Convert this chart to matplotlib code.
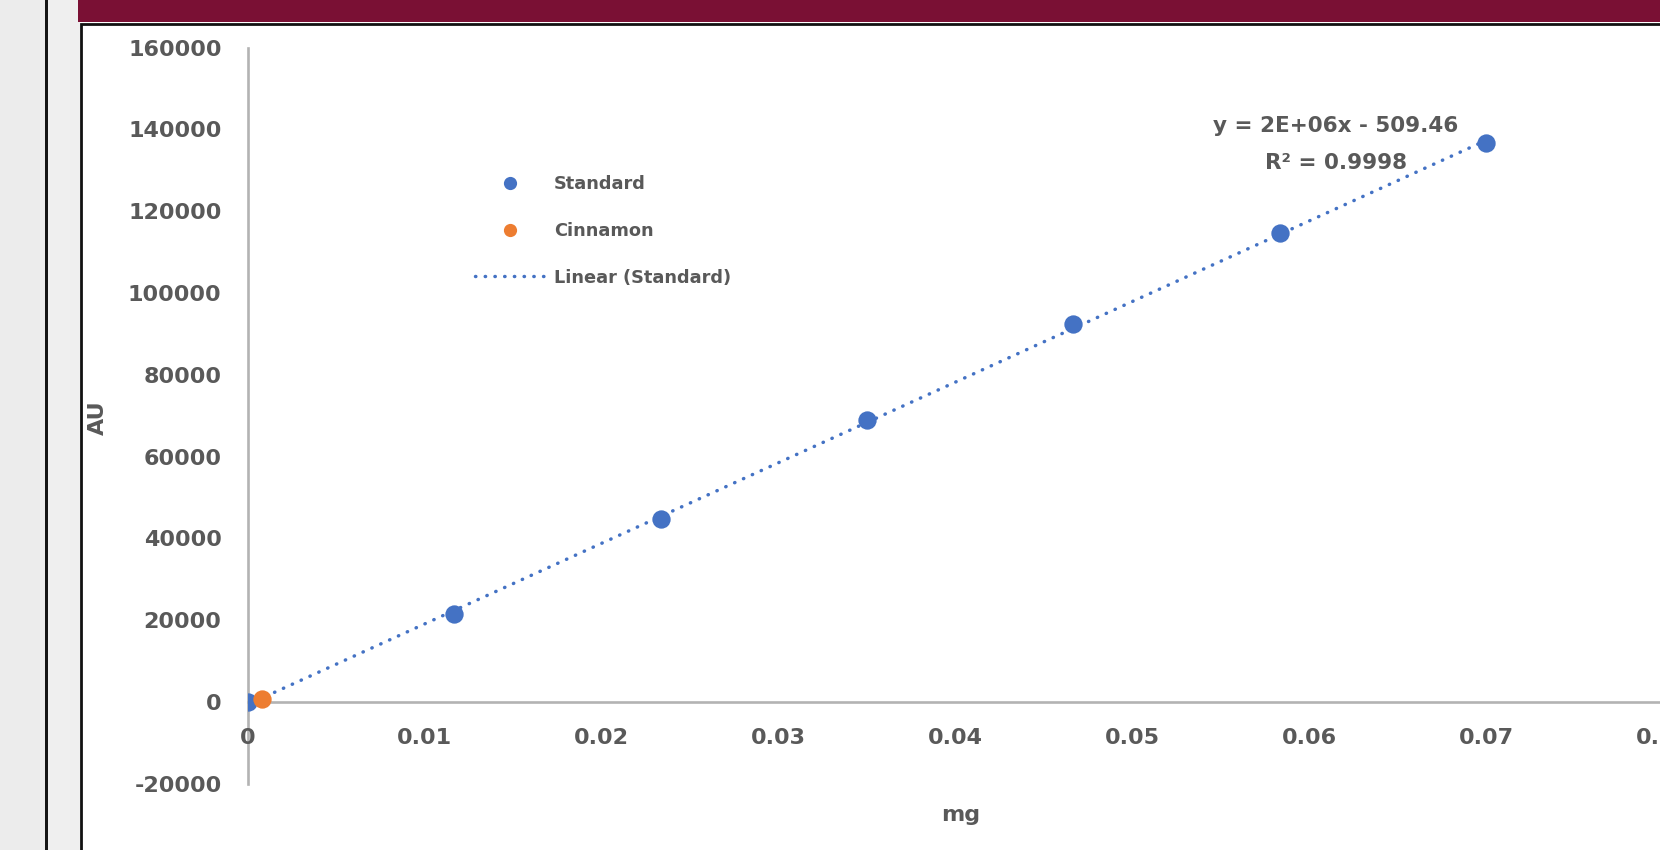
import numpy as np
import matplotlib
matplotlib.use("Agg")
import matplotlib.pyplot as plt
from matplotlib.patches import Rectangle
from matplotlib.lines import Line2D

# Calibration data (mass in mg vs detector response in AU)
standard_mg = [0.0, 0.01167, 0.02333, 0.035, 0.04667, 0.05833, 0.07]
standard_au = [0, 21500, 44700, 68900, 92300, 114600, 136600]
cinnamon_mg = [0.0008]
cinnamon_au = [750]

x_ticks = [0, 0.01, 0.02, 0.03, 0.04, 0.05, 0.06, 0.07, 0.08]
x_tick_labels = ["0", "0.01", "0.02", "0.03", "0.04", "0.05", "0.06", "0.07", "0.08"]
y_ticks = [-20000, 0, 20000, 40000, 60000, 80000, 100000, 120000, 140000, 160000]
y_tick_labels = [str(v) for v in y_ticks]

equation_text = "y = 2E+06x - 509.46\nR\u00b2 = 0.9998"
legend_labels = ["Standard", "Cinnamon", "Linear (Standard)"]

BLUE = "#4472C4"
ORANGE = "#ED7D31"
TEXT = "#595959"
AXIS = "#b3b3b3"
MAROON = "#7a1034"

plt.rcParams["font.family"] = ["DejaVu Sans"]
plt.rcParams["font.weight"] = "bold"

W, H = 1660, 850
fig = plt.figure(figsize=(W / 100, H / 100), dpi=100, facecolor="white")

# Slide backdrop: side strip, banner and the white chart box
bg = fig.add_axes([0, 0, 1, 1], zorder=0)
bg.set_xlim(0, W)
bg.set_ylim(H, 0)
bg.axis("off")
bg.add_patch(Rectangle((0, 0), 46, H, color="#ececec", lw=0))
bg.add_patch(Rectangle((45, 0), 2.5, H, color="#151515", lw=0))
bg.add_patch(Rectangle((47.5, 0), 32, H, color="#efefef", lw=0))
bg.add_patch(Rectangle((78, 0), W - 78, 22, color=MAROON, lw=0))
bg.add_patch(Rectangle((81, 24), W, H, facecolor="white", edgecolor="#111111", lw=2))

# Plot area in pixel terms
x_left_px, x_right_px = 248, 1663
y_top_px, y_bot_px = 47.6, 783.8
ax = fig.add_axes([x_left_px / W, (H - y_bot_px) / H,
                   (x_right_px - x_left_px) / W, (y_bot_px - y_top_px) / H], zorder=1)
ax.set_facecolor("none")
ax.set_xlim(0, 0.08)
ax.set_ylim(-20000, 160000)

for s in ("top", "right"):
    ax.spines[s].set_visible(False)
ax.spines["bottom"].set_position(("data", 0))
for s in ("left", "bottom"):
    ax.spines[s].set_color(AXIS)
    ax.spines[s].set_linewidth(1.9)
    ax.spines[s].set_zorder(0.5)

ax.set_xticks(x_ticks)
ax.set_xticklabels(x_tick_labels)
ax.set_yticks(y_ticks)
ax.set_yticklabels(y_tick_labels)
ax.tick_params(axis="both", length=0, labelsize=16, labelcolor=TEXT, pad=19)
for lab in ax.get_xticklabels() + ax.get_yticklabels():
    lab.set_fontweight("bold")

# Linear trendline fitted to the standards
slope, intercept = np.polyfit(standard_mg, standard_au, 1)
fit_x = np.array([min(standard_mg), max(standard_mg)])
trend, = ax.plot(fit_x, slope * fit_x + intercept, color=BLUE, lw=2.5,
                 linestyle=(0, (0.1, 2.7)), dash_capstyle="round", zorder=2)

ax.plot(standard_mg, standard_au, "o", color=BLUE, markersize=13.2,
        markeredgewidth=0, zorder=3)
ax.plot(cinnamon_mg, cinnamon_au, "o", color=ORANGE, markersize=13.2,
        markeredgewidth=0, zorder=4)

ax.text(0.0615, 136400, equation_text, ha="center", va="center",
        multialignment="center", fontsize=15.5, color=TEXT, fontweight="bold",
        linespacing=2.05)

ax.set_xlabel("mg", fontsize=16, color=TEXT, fontweight="bold")
ax.set_ylabel("AU", fontsize=16, color=TEXT, fontweight="bold")
ax.xaxis.set_label_coords((961 - x_left_px) / (x_right_px - x_left_px),
                          (y_bot_px - 815) / (y_bot_px - y_top_px))
ax.xaxis.label.set_va("center")
ax.yaxis.set_label_coords((98 - x_left_px) / (x_right_px - x_left_px), 0.497)
ax.yaxis.label.set_va("center")

handles = [
    Line2D([], [], marker="o", linestyle="none", color=BLUE, markersize=9.5, markeredgewidth=0),
    Line2D([], [], marker="o", linestyle="none", color=ORANGE, markersize=9.5, markeredgewidth=0),
    Line2D([], [], color=BLUE, lw=2.5, linestyle=(0, (0.1, 2.7)), dash_capstyle="round"),
]
leg = fig.legend(handles, legend_labels, loc="upper left",
                 bbox_to_anchor=(475 / W, 1 - 175 / H), bbox_transform=fig.transFigure,
                 frameon=False, borderpad=0, borderaxespad=0,
                 handlelength=3.9, handletextpad=0.55, labelspacing=1.62,
                 prop={"size": 12.8, "weight": "bold"})
for t in leg.get_texts():
    t.set_color(TEXT)

fig.savefig("out.png", dpi=100, facecolor="white")
